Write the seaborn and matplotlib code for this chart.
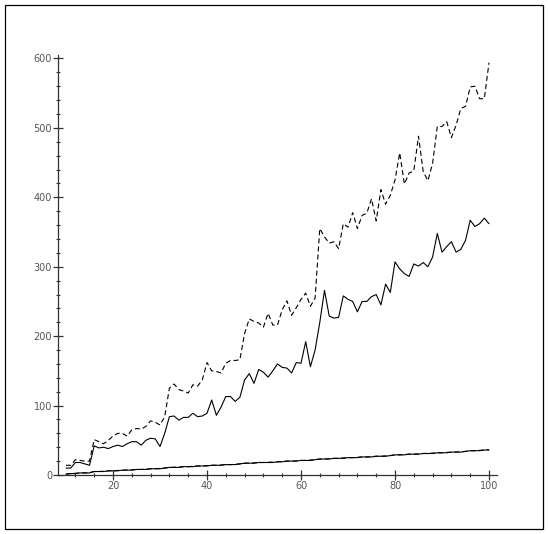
import matplotlib
matplotlib.use("Agg")
import matplotlib.pyplot as plt
import seaborn as sns
from matplotlib.patches import Rectangle
from matplotlib.ticker import MultipleLocator

x_vals = list(range(10, 101))

upper_dashed = [
    14, 14, 22, 21, 20, 20, 51, 48, 45, 50,
    56, 60, 60, 56, 65, 67, 66, 70, 78, 76,
    72, 84, 125, 131, 123, 121, 118, 130, 128, 137,
    162, 150, 149, 147, 161, 165, 165, 166, 204, 225,
    221, 219, 213, 233, 216, 216, 238, 251, 230, 241,
    253, 262, 243, 255, 355, 343, 334, 336, 326, 362,
    357, 378, 355, 374, 377, 398, 366, 411, 390, 403,
    425, 464, 419, 435, 438, 488, 437, 424, 449, 502,
    502, 509, 486, 504, 528, 531, 559, 560, 542, 542,
    594,
]

middle_solid = [
    10, 10, 18, 18, 16, 14, 42, 39, 40, 38,
    41, 43, 41, 45, 48, 48, 43, 50, 53, 52,
    41, 60, 84, 85, 79, 83, 83, 89, 84, 85,
    89, 108, 86, 98, 113, 113, 106, 112, 137, 146,
    132, 152, 148, 141, 150, 160, 155, 154, 147, 162,
    161, 192, 156, 180, 220, 266, 229, 226, 227, 258,
    253, 250, 235, 250, 250, 257, 260, 245, 275, 263,
    307, 297, 290, 286, 304, 301, 306, 300, 314, 348,
    321, 329, 336, 321, 325, 338, 367, 358, 362, 370,
    362,
]

lower_solid = [
    1, 2, 2, 3, 3, 3, 5, 5, 5, 6,
    6, 6, 7, 7, 7, 8, 8, 8, 9, 9,
    9, 10, 11, 11, 11, 12, 12, 12, 13, 13,
    13, 14, 14, 14, 15, 15, 15, 16, 17, 17,
    17, 18, 18, 18, 18, 19, 19, 20, 20, 20,
    21, 21, 21, 22, 23, 23, 23, 24, 24, 24,
    25, 25, 25, 26, 26, 26, 27, 27, 27, 28,
    29, 29, 29, 30, 30, 30, 31, 31, 31, 32,
    32, 32, 33, 33, 33, 34, 35, 35, 35, 36,
    36,
]

lower_dashed = [
    1.5, 2, 2.5, 3, 3, 3.5, 5, 5, 5.5, 6,
    6, 6.5, 7, 7, 7.5, 8, 8, 8.5, 9, 9,
    9.5, 10, 11, 11, 11.5, 12, 12, 12.5, 13, 13,
    13.5, 14, 14, 14.5, 15, 15, 15.5, 16, 17, 17,
    17.5, 18, 18, 18.5, 18.5, 19, 19.5, 20, 20, 20.5,
    21, 21, 21.5, 22, 23, 23, 23.5, 24, 24, 24.5,
    25, 25, 25.5, 26, 26, 26.5, 27, 27, 27.5, 28,
    29, 29, 29.5, 30, 30, 30.5, 31, 31, 31.5, 32,
    32, 32.5, 33, 33, 33.5, 34, 35, 35, 35.5, 36,
    36.5,
]

x_major = [20, 40, 60, 80, 100]
y_major = [0, 100, 200, 300, 400, 500, 600]

sns.set_theme(style="white")
plt.rcParams["font.family"] = ["DejaVu Sans"]

W, H = 548, 534
fig = plt.figure(figsize=(W / 100, H / 100), dpi=100, facecolor="white")
ax = fig.add_axes([58 / W, (H - 475) / H, (497 - 58) / W, (475 - 55) / H])
ax.set_facecolor("none")

# three curves plus a dashed twin lying on the lowest one
dash = (0, (4.5, 2.8))
sns.lineplot(x=x_vals, y=upper_dashed, ax=ax, color="black", lw=0.8, linestyle=dash)
sns.lineplot(x=x_vals, y=middle_solid, ax=ax, color="black", lw=0.8)
sns.lineplot(x=x_vals, y=lower_solid, ax=ax, color="black", lw=0.8)
sns.lineplot(x=x_vals, y=lower_dashed, ax=ax, color="black", lw=0.8, linestyle=dash)

ax.set_xlim(8.3, 101.7)
ax.set_ylim(0, 605)
ax.set_xticks(x_major)
ax.set_yticks(y_major)
ax.xaxis.set_minor_locator(MultipleLocator(4))
ax.yaxis.set_minor_locator(MultipleLocator(20))
ax.set_xlabel("")
ax.set_ylabel("")

for side in ["top", "right"]:
    ax.spines[side].set_visible(False)
for side in ["left", "bottom"]:
    ax.spines[side].set_color("#333333")
    ax.spines[side].set_linewidth(0.9)

ax.tick_params(which="major", direction="inout", length=6.5, width=0.9,
               color="#333333", labelsize=7, labelcolor="#555555", pad=1)
ax.tick_params(which="minor", direction="inout", length=3.5, width=0.8,
               color="#333333")
ax.tick_params(axis="both", which="both", left=True, bottom=True)

fig.patches.append(Rectangle((5 / W, 5 / H), (543 - 5) / W, (529 - 5) / H,
                             transform=fig.transFigure, fill=False,
                             edgecolor="black", linewidth=0.9))

fig.savefig("out.png", dpi=100, facecolor="white")
